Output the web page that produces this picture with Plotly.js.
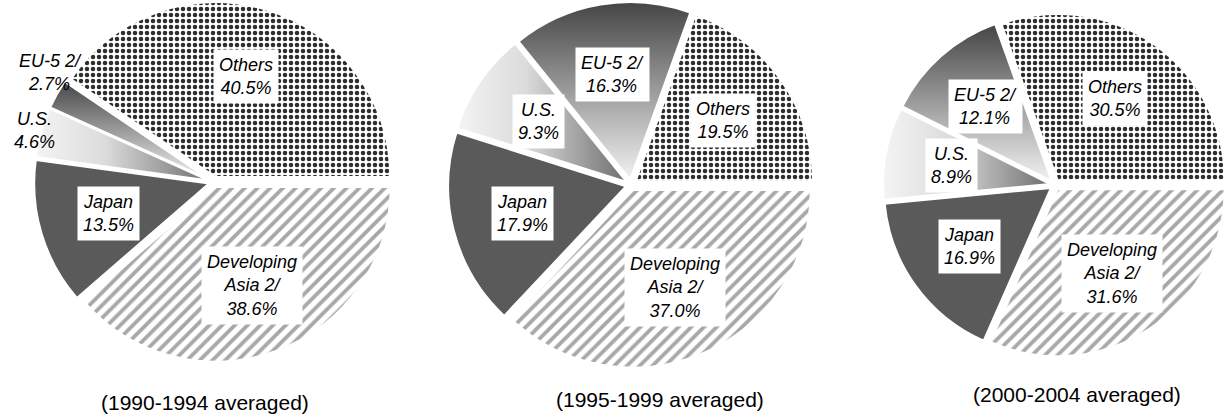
<!DOCTYPE html>
<html><head><meta charset="utf-8">
<script src="https://cdn.plot.ly/plotly-3.0.1.min.js"></script>
<style>html,body{margin:0;padding:0;background:#fff}</style>
</head><body><div id="chart" style="width:1227px;height:417px"></div>
<script>
// ---- data ----
const categories = ['Developing Asia 2/', 'Japan', 'U.S.', 'EU-5 2/', 'Others'];
const labelLines = ['Developing<br>Asia 2/', 'Japan', 'U.S.', 'EU-5 2/', 'Others'];
const shares1990 = [38.6, 13.5, 4.6, 2.7, 40.5];
const shares1995 = [37.0, 17.9, 9.3, 16.3, 19.5];
const shares2000 = [31.6, 16.9, 8.9, 12.1, 30.5];
const periodTitles = ['(1990-1994 averaged)', '(1995-1999 averaged)', '(2000-2004 averaged)'];

// ---- layout geometry (pixels) ----
const W = 1227, H = 417, PULL = 0.03;
const pies = [
  {values: shares1990, cx: 214, cy: 182, R: 180, capX: 205, capY: 402},
  {values: shares1995, cx: 631, cy: 185, R: 183, capX: 660, capY: 399},
  {values: shares2000, cx: 1055, cy: 185, R: 172, capX: 1077, capY: 394}
];

const traces = [];
const annotations = [];
pies.forEach((p, k) => {
  traces.push({
    type: 'pie',
    labels: categories,
    values: p.values,
    sort: false,
    direction: 'clockwise',
    rotation: 90,
    pull: p.values.map(() => PULL),
    textinfo: 'none',
    hoverinfo: 'skip',
    showlegend: false,
    domain: {
      x: [(p.cx - p.R) / W, Math.min(1, (p.cx + p.R) / W)],
      y: [(H - p.cy - p.R) / H, (H - p.cy + p.R) / H]
    },
    marker: {
      colors: ['#ffffff', '#5a5a5a', '#d0d0d0', '#8a8a8a', '#ffffff'],
      line: {color: '#ffffff', width: 2},
      pattern: {
        shape: ['/', '', '', '', '.'],
        fgcolor: ['#a8a8a8', '#5a5a5a', '#d0d0d0', '#8a8a8a', '#2e2e2e'],
        bgcolor: ['#ffffff', '#5a5a5a', '#d0d0d0', '#8a8a8a', '#ffffff'],
        size: [9, 8, 8, 8, 6],
        solidity: [0.42, 0.3, 0.3, 0.3, 0.45],
        fillmode: 'replace'
      }
    }
  });
  // labels placed from the data (slice mid-angles)
  const r = p.R / (1 + PULL);
  const total = p.values.reduce((a, b) => a + b, 0);
  let cum = 0;
  const pos = [];
  p.values.forEach((v, i) => {
    const mid = -(cum + v / 2) / total * 2 * Math.PI;
    cum += v;
    const outside = v < 6;
    const dist = outside ? r * 1.07 : r * 0.63;
    pos.push({i: i, v: v, outside: outside,
              px: p.cx + dist * Math.cos(mid), py: p.cy - dist * Math.sin(mid)});
  });
  // keep outside labels from overlapping: push upper ones up
  const outs = pos.filter(o => o.outside).sort((a, b) => b.py - a.py);
  for (let j = 1; j < outs.length; j++) {
    if (outs[j - 1].py - outs[j].py < 58) outs[j].py = outs[j - 1].py - 58;
  }
  pos.forEach(o => {
    annotations.push({
      xref: 'paper', yref: 'paper', x: o.px / W, y: 1 - o.py / H,
      xanchor: 'center', yanchor: 'middle', showarrow: false,
      text: '<i>' + labelLines[o.i] + '<br>' + o.v.toFixed(1) + '%</i>',
      font: {family: 'Liberation Sans, Arial, sans-serif', size: 18, color: '#000'},
      bgcolor: o.outside ? 'rgba(0,0,0,0)' : '#ffffff',
      borderpad: 5
    });
  });
  annotations.push({
    xref: 'paper', yref: 'paper', x: p.capX / W, y: 1 - p.capY / H,
    xanchor: 'center', yanchor: 'middle', showarrow: false,
    text: periodTitles[k], borderpad: 0,
    font: {family: 'Liberation Sans, Arial, sans-serif', size: 21, color: '#000'}
  });
});

const layout = {
  width: W, height: H,
  margin: {l: 0, r: 0, t: 0, b: 0},
  paper_bgcolor: '#ffffff',
  showlegend: false,
  annotations: annotations
};

Plotly.newPlot('chart', traces, layout, {staticPlot: true, displayModeBar: false}).then(gd => {
  const NS = 'http://www.w3.org/2000/svg';
  const svg = gd.querySelector('.main-svg');
  let defs = svg.querySelector('defs');
  if (!defs) { defs = document.createElementNS(NS, 'defs'); svg.insertBefore(defs, svg.firstChild); }
  function grad(id, x2, y2, stops) {
    const g = document.createElementNS(NS, 'linearGradient');
    g.setAttribute('id', id);
    g.setAttribute('x1', '0'); g.setAttribute('y1', '0');
    g.setAttribute('x2', x2); g.setAttribute('y2', y2);
    stops.forEach(([o, c]) => {
      const s = document.createElementNS(NS, 'stop');
      s.setAttribute('offset', o); s.setAttribute('stop-color', c);
      g.appendChild(s);
    });
    defs.appendChild(g);
  }
  grad('gradUS', '1', '0', [[0, '#f4f4f4'], [0.4, '#dcdcdc'], [1, '#6e6e6e']]);
  grad('gradEU', '0', '1', [[0, '#454545'], [1, '#f2f2f2']]);
  gd.querySelectorAll('g.trace').forEach(t => {
    const paths = t.querySelectorAll('g.slice path.surface');
    if (paths.length === 5) {
      paths[2].style.fill = 'url(#gradUS)';
      paths[3].style.fill = 'url(#gradEU)';
    }
  });
});
</script>
</body></html>
